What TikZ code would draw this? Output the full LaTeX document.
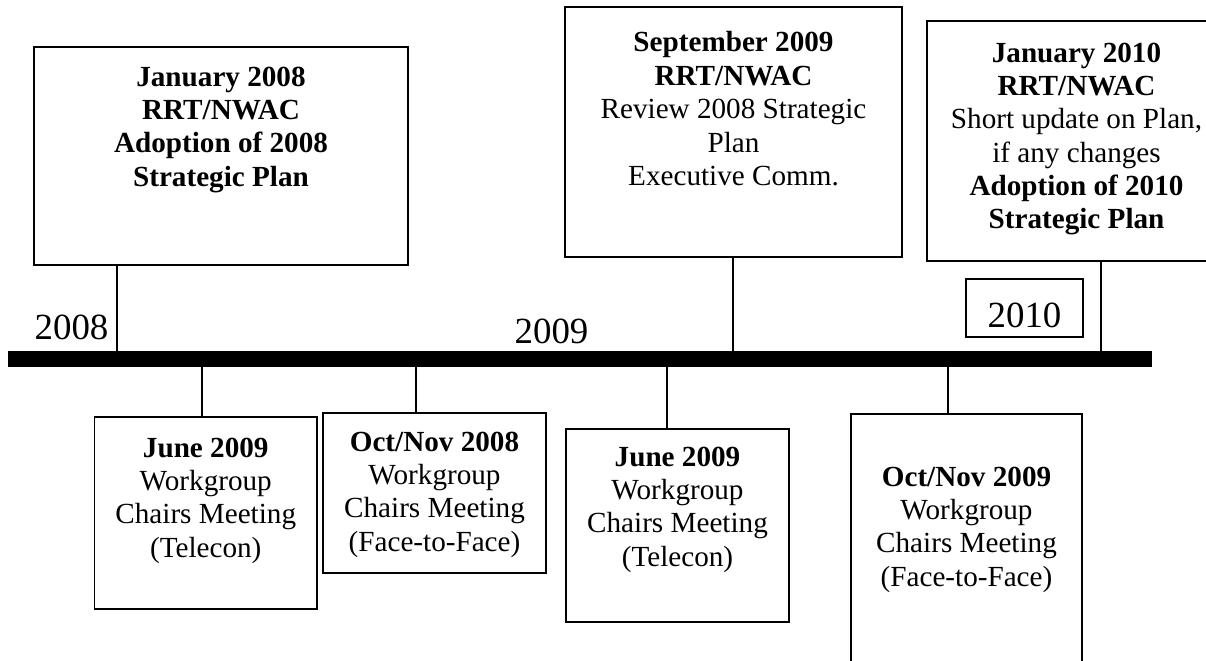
\documentclass[tikz,border=0pt]{standalone}
\usepackage{fontspec}
\setmainfont{Liberation Serif}
\tikzset{event box/.style={rectangle,draw,line width=0.8pt,inner sep=0pt},
         event text/.style={anchor=north,align=center,inner sep=0pt,font=\fontsize{16.6}{19}\selectfont},
         year label/.style={anchor=base,inner sep=0pt,font=\fontsize{21}{25}\selectfont},
         tick/.style={line width=0.8pt},
            }

\begin{document}
\begin{tikzpicture}[x=0.02cm,y=-0.02cm]
	\useasboundingbox (0,0) rectangle (1206,660);
	\clip (0,0) rectangle (1206,660);

	% timeline bar and its ticks
	\fill (8,351) rectangle (1152,367);
	\coordinate (t1) at (117,351);
	\coordinate (t2) at (733,351);
	\coordinate (t3) at (1101,351);
	\coordinate (b1) at (202,367);
	\coordinate (b2) at (416,367);
	\coordinate (b3) at (667,367);
	\coordinate (b4) at (948,367);

	\node[year label] (y2008) at (71.5,339) {2008};
	\node[year label] (y2009) at (551.5,343) {2009};
	\node[event box,minimum width=2.34cm,minimum height=1.16cm,text height=0.76cm,text depth=0pt,font=\fontsize{21}{25}\selectfont] (y2010) at (1024.5,308) {2010};

	% boxes above the line
	\node[event box,minimum width=7.48cm,minimum height=4.36cm] (jan08) at (221,156) {};
	\node[event text] (jan08 text) at ([yshift=-0.4cm]jan08.north) {\textbf{January 2008}\\\textbf{RRT/NWAC}\\\textbf{Adoption of 2008}\\\textbf{Strategic Plan}};

	\node[event box,minimum width=6.74cm,minimum height=5cm] (sep09) at (733.5,132) {};
	\node[event text] (sep09 text) at ([yshift=-0.5cm]sep09.north) {\textbf{September 2009}\\\textbf{RRT/NWAC}\\Review 2008 Strategic\\Plan\\Executive Comm.};

	\node[event box,minimum width=5.98cm,minimum height=4.8cm] (jan10) at (1076.5,141) {};
	\node[event text] (jan10 text) at ([yshift=-0.44cm]jan10.north) {\textbf{January 2010}\\\textbf{RRT/NWAC}\\Short update on Plan,\\if any changes\\\textbf{Adoption of 2010}\\\textbf{Strategic Plan}};

	% boxes below the line
	\node[event box,minimum width=4.45cm,minimum height=3.84cm] (jun09a) at (205.75,513) {};
	\node[event text] (jun09a text) at ([yshift=-0.42cm]jun09a.north) {\textbf{June 2009}\\Workgroup\\Chairs Meeting\\(Telecon)};

	\node[event box,minimum width=4.46cm,minimum height=3.2cm] (oct08) at (434.5,493) {};
	\node[event text] (oct08 text) at ([yshift=-0.38cm]oct08.north) {\textbf{Oct/Nov 2008}\\Workgroup\\Chairs Meeting\\(Face-to-Face)};

	\node[event box,minimum width=4.46cm,minimum height=3.86cm] (jun09b) at (677.5,525.5) {};
	\node[event text] (jun09b text) at ([yshift=-0.36cm]jun09b.north) {\textbf{June 2009}\\Workgroup\\Chairs Meeting\\(Telecon)};

	\node[event box,minimum width=4.62cm,minimum height=5.72cm] (oct09) at (966.5,557) {};
	\node[event text] (oct09 text) at ([yshift=-1.06cm]oct09.north) {\textbf{Oct/Nov 2009}\\Workgroup\\Chairs Meeting\\(Face-to-Face)};

	\draw[tick] (jan08.south -| t1) -- (t1);
	\draw[tick] (sep09.south -| t2) -- (t2);
	\draw[tick] (jan10.south -| t3) -- (t3);
	\draw[tick] (b1) -- (b1 |- jun09a.north);
	\draw[tick] (b2) -- (b2 |- oct08.north);
	\draw[tick] (b3) -- (b3 |- jun09b.north);
	\draw[tick] (b4) -- (b4 |- oct09.north);
\end{tikzpicture}
\end{document}
